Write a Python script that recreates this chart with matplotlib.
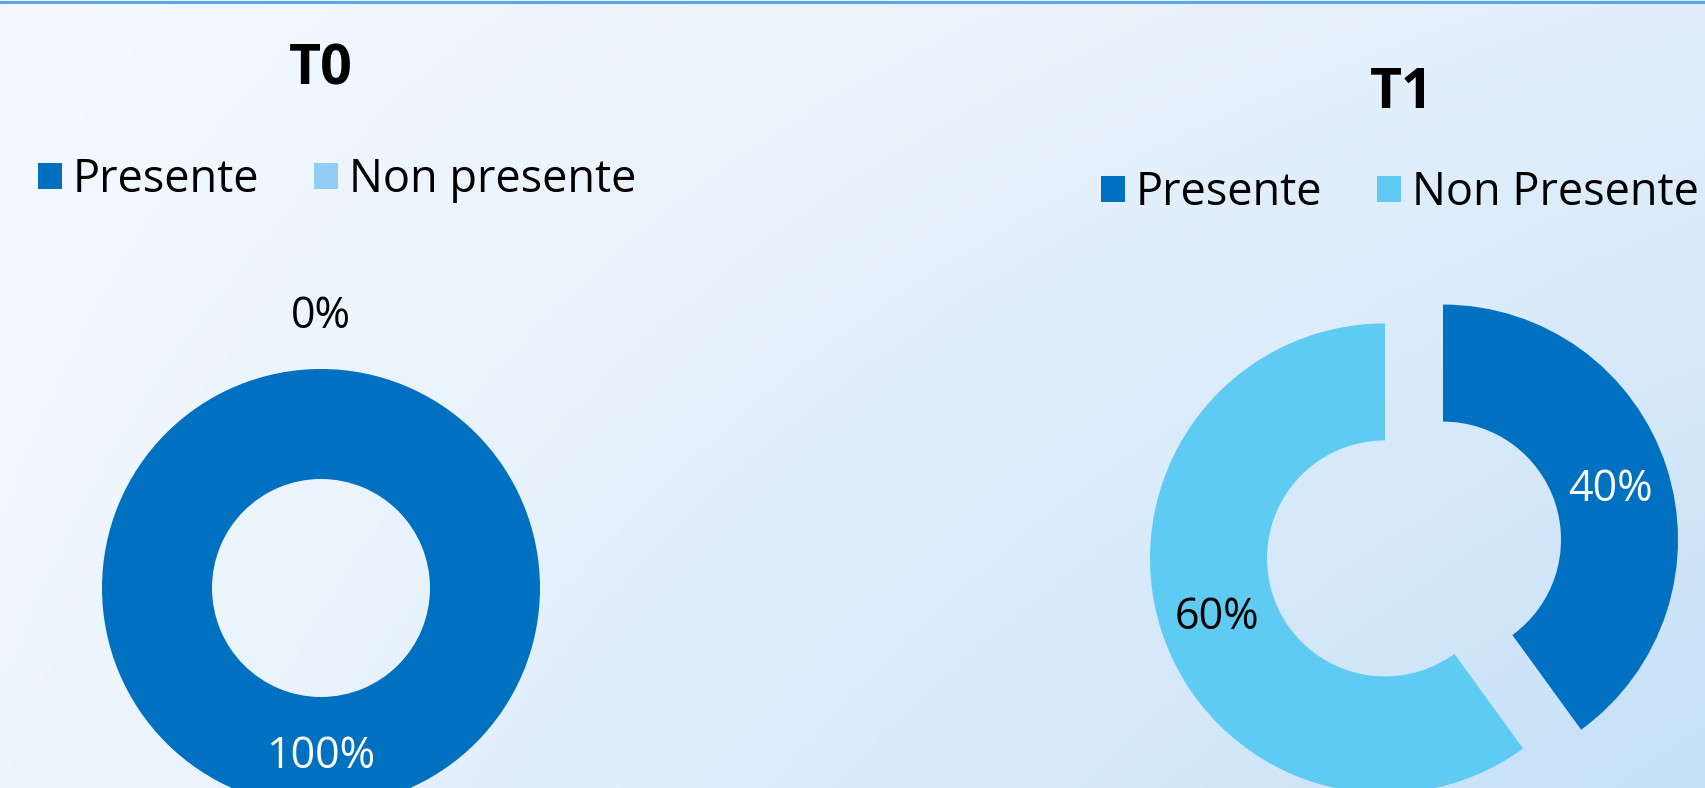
import matplotlib
matplotlib.use("Agg")
import matplotlib.pyplot as plt
import numpy as np

plt.rcParams['font.family'] = ['Open Sans', 'DejaVu Sans']

# data
labels_t0 = ["Presente", "Non presente"]
values_t0 = [100, 0]
colors_t0 = ["#0070C0", "#92CDF5"]
label_colors_t0 = ["white", "black"]

labels_t1 = ["Presente", "Non Presente"]
values_t1 = [40, 60]
colors_t1 = ["#0070C0", "#5FCBF2"]
label_colors_t1 = ["white", "black"]

W, H = 1705, 788
fig = plt.figure(figsize=(W / 100, H / 100), dpi=100)
ax = fig.add_axes([0, 0, 1, 1])

# soft blue gradient background
u, v = np.meshgrid(np.linspace(0, 1, 300), np.linspace(0, 1, 150))
tl = np.array([245, 249, 254]) / 255
tr = np.array([226, 239, 251]) / 255
bl = np.array([238, 246, 253]) / 255
br = np.array([197, 224, 247]) / 255
u3, v3 = u[..., None], v[..., None]
bg = tl * (1 - u3) * (1 - v3) + tr * u3 * (1 - v3) + bl * (1 - u3) * v3 + br * u3 * v3
ax.imshow(bg, extent=(0, W, 0, H), aspect='auto', zorder=0)


def donut(values, colors, txt_colors, center, radius, inner, explode=0):
    wedges, _, autos = ax.pie(values, colors=colors, startangle=90, counterclock=False,
                              radius=radius, center=center, explode=[explode] * len(values),
                              wedgeprops=dict(width=radius - inner, linewidth=0),
                              autopct='%1.0f%%', pctdistance=0.75,
                              textprops=dict(fontsize=31))
    for w, t, val, c in zip(wedges, autos, values, txt_colors):
        t.set_color(c)
        x, y = t.get_position()
        if val == 0:
            ang = np.deg2rad(w.theta1)
            x = center[0] + 1.26 * radius * np.cos(ang)
            y = center[1] + 1.26 * radius * np.sin(ang)
        t.set_position((x, y - 5))
        w.set_zorder(2)
        t.set_zorder(3)
    return wedges


w0 = donut(values_t0, colors_t0, label_colors_t0, (321, H - 588), 219, 109)
w1 = donut(values_t1, colors_t1, label_colors_t1, (1414, H - 549), 235, 118, explode=30.5)

ax.text(321, H - 70, "T0", ha='center', va='center', fontsize=40, fontweight='bold')
ax.text(1402, H - 93, "T1", ha='center', va='center', fontsize=40, fontweight='bold')

leg_kw = dict(loc='center left', ncol=2, frameon=False, fontsize=32.5,
              handlelength=0.53, handleheight=0.53, handletextpad=0.24,
              columnspacing=1.22, borderpad=0, borderaxespad=0,
              bbox_transform=ax.transData)
leg0 = ax.legend(w0, labels_t0, bbox_to_anchor=(38, H - 180), **leg_kw)
ax.add_artist(leg0)
ax.legend(w1, labels_t1, bbox_to_anchor=(1101, H - 193), **leg_kw)

ax.axhline(H - 1.5, color='#5AA6E6', lw=2.2, zorder=4)

ax.set_xlim(0, W)
ax.set_ylim(0, H)
ax.set_aspect('auto')
ax.axis('off')

fig.savefig("out.png", dpi=100)
